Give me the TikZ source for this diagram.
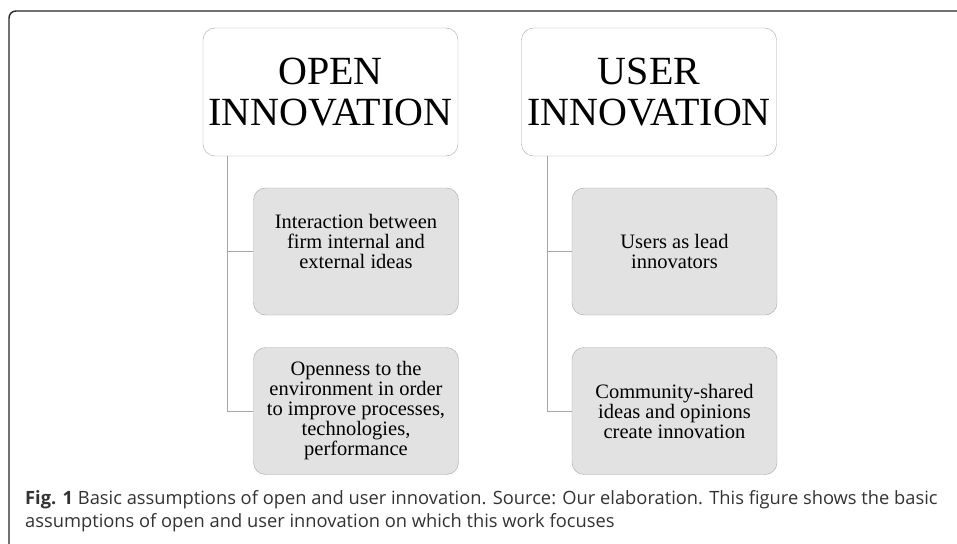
\documentclass[tikz,border=0pt]{standalone}
\usepackage{fontspec}
\setmainfont{Liberation Serif}
\newfontfamily\capfont{Open Sans}
\usepackage{tikz}
\usetikzlibrary{shapes,arrows,positioning,fit,calc}

\definecolor{boxgray}{HTML}{E2E2E2}
\definecolor{linegray}{HTML}{A6A6A6}
\definecolor{captext}{HTML}{333333}

\begin{document}
\begin{tikzpicture}[x=1pt,y=-1pt,
    head/.style={draw=linegray, fill=white, rounded corners=12pt, align=center,
        minimum width=255pt, minimum height=128pt, inner sep=0pt,
        font=\fontsize{40}{41}\selectfont},
    item/.style={draw=linegray, fill=boxgray, rounded corners=12pt, align=center,
        minimum width=205pt, minimum height=127pt, inner sep=0pt,
        font=\fontsize{20.5}{20}\selectfont},
    conn/.style={draw=linegray, line width=0.8pt}
    ]
            \useasboundingbox (0,0) rectangle (957,543);
            \fill[white] (0,0) rectangle (957,543);
            % frame
            \draw[line width=1.4pt, draw=black!85, rounded corners=7pt] (962,11) -- (9,11) -- (9,548);
            % open innovation
            \node[head] (open) at (330.5,92) {OPEN\\INNOVATION};
            \node[item] (oint) at (356,251.5) {Interaction between\\firm internal and\\external ideas\\\mbox{}};
            \node[item] (oenv) at (356,411) {Openness to the\\environment in order\\to improve processes,\\technologies,\\performance};
            \draw[conn] ($(open.south west)+(25pt,0)$) |- (oint.west);
            \draw[conn] ($(open.south west)+(25pt,0)$) |- (oenv.west);
            % user innovation
            \node[head] (user) at (649,92) {USER\\INNOVATION};
            \node[item] (ulead) at (674.5,251.5) {Users as lead\\innovators};
            \node[item] (ucomm) at (674.5,411) {Community-shared\\ideas and opinions\\create innovation};
            \draw[conn] ($(user.south west)+(26pt,0)$) |- (ulead.west);
            \draw[conn] ($(user.south west)+(26pt,0)$) |- (ucomm.west);
            % caption
            \node[anchor=base west, align=left, inner sep=0pt, text=captext,
                font=\capfont\fontsize{18.3}{23}\selectfont] (cap) at (25,527)
                {\textbf{Fig. 1} Basic assumptions of open and user innovation. Source: Our elaboration. This figure shows the basic\\
                assumptions of open and user innovation on which this work focuses};
        \end{tikzpicture}
\end{document}
